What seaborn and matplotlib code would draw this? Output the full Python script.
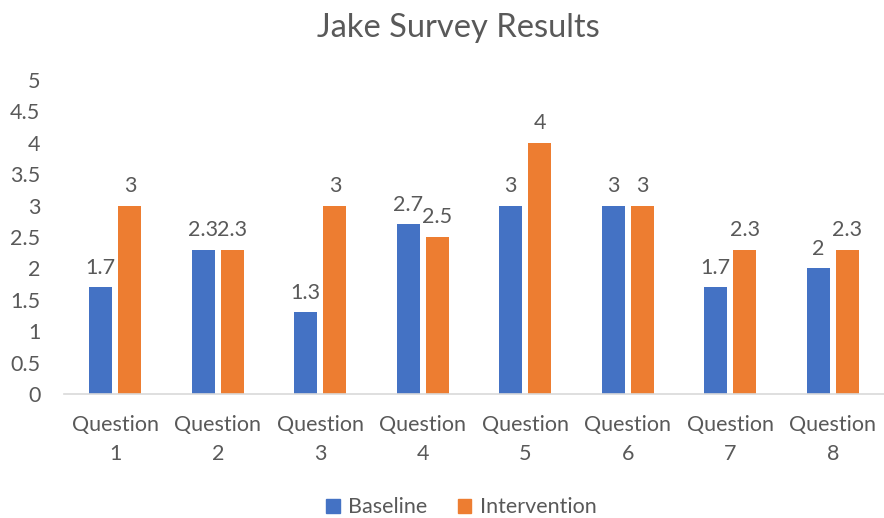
import matplotlib
matplotlib.use("Agg")
import matplotlib.pyplot as plt
import seaborn as sns
import pandas as pd

categories = ["Question\n1", "Question\n2", "Question\n3", "Question\n4",
              "Question\n5", "Question\n6", "Question\n7", "Question\n8"]
baseline = [1.7, 2.3, 1.3, 2.7, 3, 3, 1.7, 2]
intervention = [3, 2.3, 3, 2.5, 4, 3, 2.3, 2.3]
series_names = ["Baseline", "Intervention"]
palette = ["#4472C4", "#ED7D31"]
yticks = [0, 0.5, 1, 1.5, 2, 2.5, 3, 3.5, 4, 4.5, 5]

df = pd.DataFrame({
    "Question": categories * 2,
    "Score": baseline + intervention,
    "Series": [series_names[0]] * len(categories) + [series_names[1]] * len(categories),
})

sns.set_theme(style="white")
plt.rcParams["font.family"] = ["Lato", "DejaVu Sans"]
text_color = "#595959"
fs = 15.5

fig = plt.figure(figsize=(8.84, 5.18), dpi=100)
ax = fig.add_axes([0.0724, 0.2394, 0.9276, 0.6062])

sns.barplot(data=df, x="Question", y="Score", hue="Series", palette=palette,
            width=0.572, gap=0.217, ax=ax, saturation=1, legend=True,
            edgecolor="none")

for container in ax.containers:
    ax.bar_label(container, fmt="%g", padding=7, fontsize=fs, color=text_color)

ax.set_ylim(0, 5)
ax.set_xlim(-0.5, len(categories) - 0.5)
ax.set_yticks(yticks)
ax.set_yticklabels([f"{t:g}" for t in yticks])
ax.set_xlabel("")
ax.set_ylabel("")
ax.tick_params(axis="both", length=0, labelsize=fs, colors=text_color)
ax.tick_params(axis="y", pad=17)
ax.tick_params(axis="x", pad=15)
for lbl in ax.get_xticklabels():
    lbl.set_linespacing(1.6)
for side in ["left", "right", "top"]:
    ax.spines[side].set_visible(False)
ax.spines["bottom"].set_color("#D9D9D9")
ax.spines["bottom"].set_linewidth(1.2)

fig.text(0.518, 0.945, "Jake Survey Results", ha="center", va="center",
         fontsize=23.5, color=text_color)

ax.legend_.remove()
handles = [plt.Rectangle((0, 0), 1, 1, color=c) for c in palette]
fig.legend(handles, series_names, loc="center", bbox_to_anchor=(0.522, 0.021),
           ncol=2, frameon=False, fontsize=fs, labelcolor=text_color,
           handlelength=0.62, handleheight=0.62, handletextpad=0.4,
           columnspacing=1.4)

fig.savefig("out.png", dpi=100)
